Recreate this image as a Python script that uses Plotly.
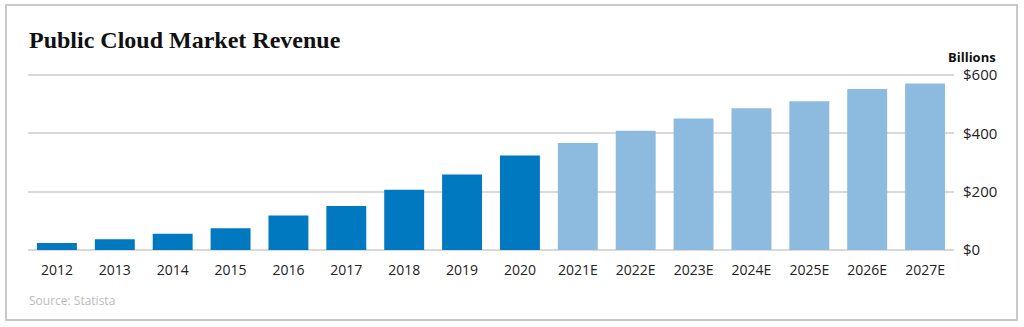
import plotly.graph_objects as go

categories = ["2012", "2013", "2014", "2015", "2016", "2017", "2018", "2019", "2020",
              "2021E", "2022E", "2023E", "2024E", "2025E", "2026E", "2027E"]
revenue = [24, 37, 56, 75, 118, 151, 207, 259, 324, 367, 409, 451, 486, 510, 552, 571]
y_ticks = [0, 200, 400, 600]
y_tick_labels = ["$0", "$200", "$400", "$600"]

ACTUAL = "#0079C1"
ESTIMATE = "#8DBADF"
colors = [ESTIMATE if c.endswith("E") else ACTUAL for c in categories]

W, H = 1024, 327
ML, MR, MT, MB = 28, 70, 68, 77
PW, PH = W - ML - MR, H - MT - MB


def px(x):
    return (x - ML) / PW


def py(y):
    return (H - MB - y) / PH


fig = go.Figure(go.Bar(x=categories, y=revenue, marker=dict(color=colors, line=dict(width=0)),
                       hoverinfo="x+y"))

fig.update_layout(
    width=W, height=H,
    margin=dict(l=ML, r=MR, t=MT, b=MB),
    paper_bgcolor="white", plot_bgcolor="white",
    bargap=0.31,
    showlegend=False,
    font=dict(family="Open Sans, Noto Sans, sans-serif", color="#222"),
    xaxis=dict(showgrid=False, showline=False, ticks="", tickfont=dict(size=14, color="#222"),
               ticklabelstandoff=10),
    yaxis=dict(side="right", range=[0, 624], tickvals=y_ticks, ticktext=y_tick_labels,
               showgrid=True, gridcolor="#D9D9D9", gridwidth=1.5,
               zeroline=True, zerolinecolor="#D9D9D9", zerolinewidth=1.5,
               ticks="", tickfont=dict(size=15, color="#222"), ticklabelstandoff=8,
               showline=False),
    shapes=[dict(type="rect", xref="paper", yref="paper",
                 x0=px(6), x1=px(1017), y0=py(5), y1=py(320),
                 line=dict(color="#C8C8C8", width=2), fillcolor="rgba(0,0,0,0)", layer="below")],
    annotations=[
        dict(text="<b>Public Cloud Market Revenue</b>", xref="paper", yref="paper",
             x=px(27), y=py(40), xanchor="left", yanchor="middle", showarrow=False,
             font=dict(family="Liberation Serif, Times New Roman, serif", size=24, color="#111")),
        dict(text="<b>Billions</b>", xref="paper", yref="paper",
             x=px(998), y=py(57), xanchor="right", yanchor="middle", showarrow=False,
             font=dict(size=13, color="#111")),
        dict(text="Source: Statista", xref="paper", yref="paper",
             x=px(27), y=py(300), xanchor="left", yanchor="middle", showarrow=False,
             font=dict(size=12, color="#BBBBBB")),
    ],
)

fig.write_html("out.html")
